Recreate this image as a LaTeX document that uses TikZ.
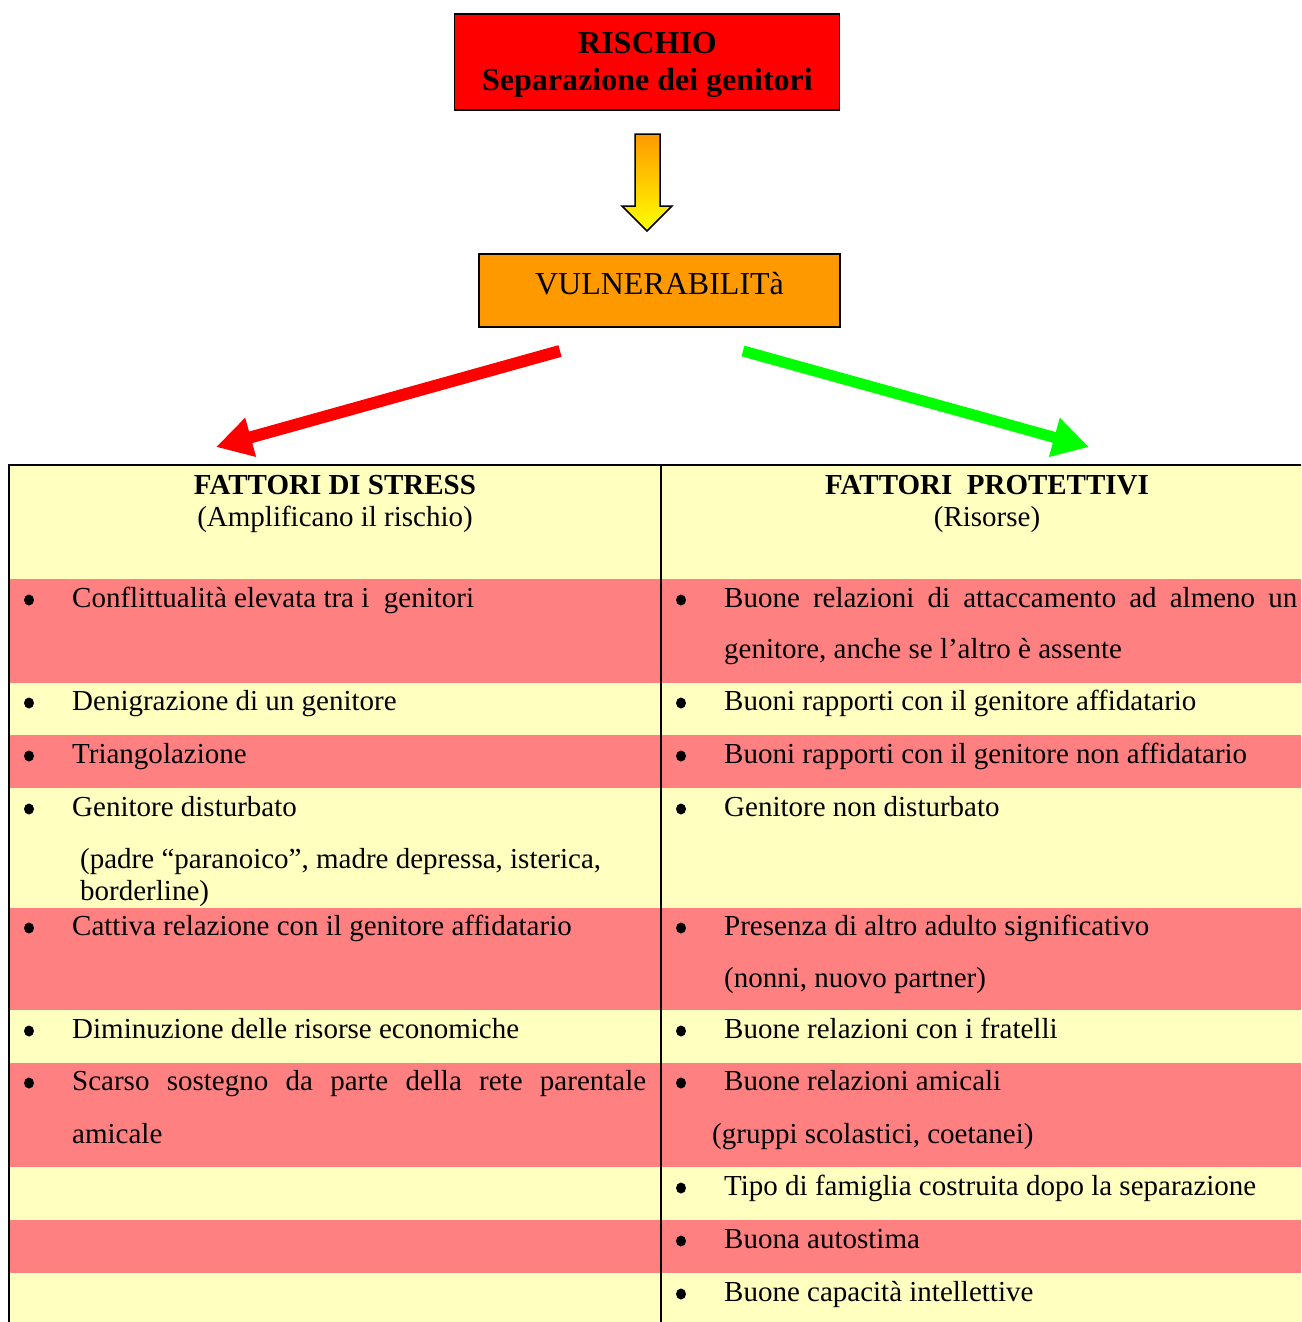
\documentclass[tikz,border=0pt]{standalone}
\usepackage{fontspec}
\setmainfont{Liberation Serif}
\usetikzlibrary{arrows.meta,shapes.geometric}
\definecolor{riskred}{RGB}{255,0,0}
\definecolor{vulnorange}{RGB}{255,153,0}
\definecolor{rowred}{RGB}{255,128,128}
\definecolor{rowyellow}{RGB}{255,255,192}
\definecolor{arrowgreen}{RGB}{0,255,0}
\begin{document}
\begin{tikzpicture}[x=1pt,y=-1pt,
  box/.style={draw=black, line width=1.5pt, inner sep=0pt},
  bigtxt/.style={font=\fontsize{32}{38}\selectfont, inner sep=0pt, anchor=base},
  txt/.style={font=\fontsize{29}{35}\selectfont, inner sep=0pt, anchor=base west},
  hdr/.style={font=\fontsize{29}{35}\selectfont, inner sep=0pt, anchor=base},
  dot/.style={ellipse, fill=black, inner sep=0pt, minimum width=10pt, minimum height=11pt},
  fork/.style={line width=12pt, -{Triangle[length=36pt,width=38pt]}},
  rule/.style={line width=2pt, draw=black}]

% canvas
\fill[white] (0,0) rectangle (1301,1322);
\useasboundingbox (0,0) rectangle (1301,1322);

% risk and vulnerability boxes
\node[box, fill=riskred, minimum width=385pt, minimum height=96pt] (rischio) at (647,62) {};
\node[bigtxt, font=\bfseries\fontsize{32}{38}\selectfont] (rischioA) at (647.5,54) {RISCHIO};
\node[bigtxt, font=\bfseries\fontsize{32}{38}\selectfont] (rischioB) at (647.5,90) {Separazione dei genitori};

\node[box, fill=vulnorange, minimum width=361pt, minimum height=73pt] (vuln) at (659.5,290.5) {};
\node[bigtxt] (vulntxt) at (659.5,294) {VULNERABILITà};

% shaded block arrow from risk to vulnerability
\path[draw=black, line width=1.5pt, top color=vulnorange, bottom color=yellow]
  (635,134) -- (660,134) -- (660,206) -- (672,206) -- (647,231) -- (622,206) -- (635,206) -- cycle;

% forks towards the two columns
\coordinate (redstart) at (560,351);
\coordinate (redend) at (216,447);
\coordinate (greenstart) at (743,351);
\coordinate (greenend) at (1089,447);
\draw[fork, draw=riskred, fill=riskred] (redstart) -- (redend);
\draw[fork, draw=arrowgreen, fill=arrowgreen, line width=11pt] (greenstart) -- (greenend);

% table row bands
\fill[rowyellow] (9,465) rectangle (1301,579);
\fill[rowred]    (9,579) rectangle (1301,683);
\fill[rowyellow] (9,683) rectangle (1301,735);
\fill[rowred]    (9,735) rectangle (1301,788);
\fill[rowyellow] (9,788) rectangle (1301,908);
\fill[rowred]    (9,908) rectangle (1301,1010);
\fill[rowyellow] (9,1010) rectangle (1301,1063);
\fill[rowred]    (9,1063) rectangle (1301,1167);
\fill[rowyellow] (9,1167) rectangle (1301,1220);
\fill[rowred]    (9,1220) rectangle (1301,1273);
\fill[rowyellow] (9,1273) rectangle (1301,1322);

% table rules
\draw[rule] (8,465) -- (1301,465);
\draw[rule] (9,465) -- (9,1322);
\draw[rule] (661,465) -- (661,1322);

% column headings
\node[hdr, font=\bfseries\fontsize{29}{35}\selectfont] (hstress) at (335,494) {FATTORI DI STRESS};
\node[hdr] (hstressB) at (335,526) {(Amplificano il rischio)};
\node[hdr, font=\bfseries\fontsize{29}{35}\selectfont] (hprot) at (987,494) {FATTORI~~PROTETTIVI};
\node[hdr] (hprotB) at (987,526) {(Risorse)};

% bullets (centred just above each baseline)
\foreach \yy [count=\i] in {607,710,763,816,935,1038,1090}
  \node[dot] (lb\i) at (29,\yy-7) {};
\foreach \yy [count=\i] in {607,710,763,816,935,1038,1090,1195,1248,1301}
  \node[dot] (rb\i) at (681,\yy-7) {};

% stress factors
\node[txt] (l1) at (72,607) {Conflittualità elevata tra i~~genitori};
\node[txt] (l2) at (72,710) {Denigrazione di un genitore};
\node[txt] (l3) at (72,763) {Triangolazione};
\node[txt] (l4) at (72,816) {Genitore disturbato};
\node[txt] (l5) at (80,868) {(padre “paranoico”, madre depressa, isterica,};
\node[txt] (l6) at (80,900) {borderline)};
\node[txt] (l7) at (72,935) {Cattiva relazione con il genitore affidatario};
\node[txt] (l8) at (72,1038) {Diminuzione delle risorse economiche};
\node[txt] (l9) at (72,1090) {\makebox[574pt][s]{Scarso sostegno da parte della rete parentale}};
\node[txt] (l10) at (72,1143) {amicale};

% protective factors
\node[txt] (r1) at (724,607) {\makebox[573pt][s]{Buone relazioni di attaccamento ad almeno un}};
\node[txt] (r2) at (724,658) {genitore, anche se l’altro è assente};
\node[txt] (r3) at (724,710) {Buoni rapporti con il genitore affidatario};
\node[txt] (r4) at (724,763) {Buoni rapporti con il genitore non affidatario};
\node[txt] (r5) at (724,816) {Genitore non disturbato};
\node[txt] (r6) at (724,935) {Presenza di altro adulto significativo};
\node[txt] (r7) at (724,987) {(nonni, nuovo partner)};
\node[txt] (r8) at (724,1038) {Buone relazioni con i fratelli};
\node[txt] (r9) at (724,1090) {Buone relazioni amicali};
\node[txt] (r10) at (712,1143) {(gruppi scolastici, coetanei)};
\node[txt] (r11) at (724,1195) {Tipo di famiglia costruita dopo la separazione};
\node[txt] (r12) at (724,1248) {Buona autostima};
\node[txt] (r13) at (724,1301) {Buone capacità intellettive};
\end{tikzpicture}
\end{document}
